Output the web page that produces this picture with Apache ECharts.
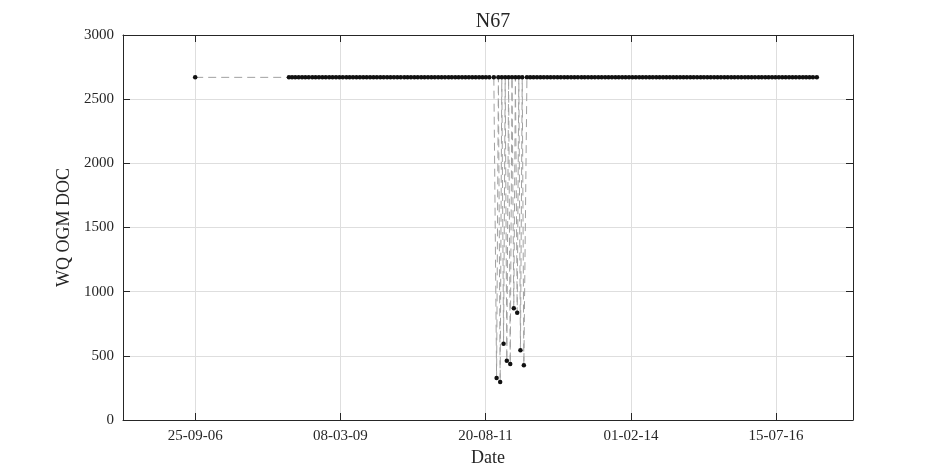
<!DOCTYPE html>
<html>
<head>
<meta charset="utf-8">
<script src="https://cdn.jsdelivr.net/npm/echarts@6/dist/echarts.min.js"></script>
<style>
  html, body { margin: 0; padding: 0; background: #fff; }
  #chart { width: 945px; height: 472px; }
</style>
</head>
<body>
<div id="chart"></div>
<script>
// site N67, DOC readings
var plateauValue = 2670;
var plateauDates = [
    '2006-09-25',
    '2008-04-25', '2008-05-14', '2008-06-03', '2008-06-24', '2008-07-15', '2008-08-04', '2008-08-25',
    '2008-09-16', '2008-10-06', '2008-10-27', '2008-11-17', '2008-12-08', '2008-12-29',
    '2009-01-19', '2009-02-09', '2009-03-02', '2009-03-23', '2009-04-14', '2009-05-04', '2009-05-25',
    '2009-06-15', '2009-07-06', '2009-07-27', '2009-08-17', '2009-09-07', '2009-09-28', '2009-10-19',
    '2009-11-09', '2009-11-30', '2009-12-21',
    '2010-01-11', '2010-02-01', '2010-02-22', '2010-03-15', '2010-04-06', '2010-04-26', '2010-05-17',
    '2010-06-07', '2010-06-28', '2010-07-19', '2010-08-09', '2010-08-30', '2010-09-20', '2010-10-11',
    '2010-11-01', '2010-11-22', '2010-12-13',
    '2011-01-04', '2011-01-24', '2011-02-14', '2011-03-07', '2011-03-28', '2011-04-18', '2011-05-09',
    '2011-05-30', '2011-06-20', '2011-07-11', '2011-08-01', '2011-08-22', '2011-09-12', '2011-10-10',
    '2011-11-07', '2011-11-28', '2011-12-19',
    '2012-01-09', '2012-01-30', '2012-02-20', '2012-03-12', '2012-04-02', '2012-05-01', '2012-05-21',
    '2012-06-11', '2012-07-02', '2012-07-23', '2012-08-13', '2012-09-03', '2012-09-24', '2012-10-15',
    '2012-11-05', '2012-11-26', '2012-12-17',
    '2013-01-07', '2013-01-28', '2013-02-18', '2013-03-11', '2013-04-02', '2013-04-22', '2013-05-13',
    '2013-06-03', '2013-06-24', '2013-07-15', '2013-08-05', '2013-08-26', '2013-09-16', '2013-10-07',
    '2013-10-28', '2013-11-18', '2013-12-09', '2013-12-30',
    '2014-01-20', '2014-02-10', '2014-03-03', '2014-03-24', '2014-04-14', '2014-05-05', '2014-05-26',
    '2014-06-16', '2014-07-07', '2014-07-28', '2014-08-18', '2014-09-08', '2014-09-29', '2014-10-20',
    '2014-11-10', '2014-12-01', '2014-12-22',
    '2015-01-12', '2015-02-02', '2015-02-23', '2015-03-16', '2015-04-07', '2015-04-27', '2015-05-18',
    '2015-06-08', '2015-06-29', '2015-07-20', '2015-08-10', '2015-08-31', '2015-09-21', '2015-10-12',
    '2015-11-02', '2015-11-23', '2015-12-14',
    '2016-01-05', '2016-01-25', '2016-02-15', '2016-03-07', '2016-03-29', '2016-04-18', '2016-05-09',
    '2016-05-30', '2016-06-20', '2016-07-11', '2016-08-01', '2016-08-22', '2016-09-12', '2016-10-03',
    '2016-10-24', '2016-11-14', '2016-12-05', '2016-12-27',
    '2017-01-16', '2017-02-06', '2017-02-27', '2017-03-23'
];
var dipDates = ['2011-10-27', '2011-11-18', '2011-12-09', '2011-12-29', '2012-01-19',
    '2012-02-10', '2012-03-02', '2012-03-22', '2012-04-12'];
var dipValues = [327, 296, 595, 462, 436, 870, 836, 543, 426];

var tickDates = ['2006-09-25', '2009-03-08', '2011-08-20', '2014-02-01', '2016-07-15'];
var xRange = ['2005-07-07', '2017-11-01'];
var yTicks = [0, 500, 1000, 1500, 2000, 2500, 3000];

function toTime(s) {
    let p = s.split('-');
    return Date.UTC(+p[0], +p[1] - 1, +p[2]);
}

function fmtDate(v) {
    let d = new Date(v);
    let dd = ('0' + d.getUTCDate()).slice(-2);
    let mm = ('0' + (d.getUTCMonth() + 1)).slice(-2);
    let yy = ('0' + (d.getUTCFullYear() % 100)).slice(-2);
    return dd + '-' + mm + '-' + yy;
}

var points = [];
for (let i = 0; i < plateauDates.length; i++) {
    points.push([toTime(plateauDates[i]), plateauValue]);
}
for (let i = 0; i < dipDates.length; i++) {
    points.push([toTime(dipDates[i]), dipValues[i]]);
}
points.sort(function (a, b) { return a[0] - b[0]; });

var ticks = tickDates.map(toTime);
var font = 'Liberation Serif';
var ink = '#262626';

var chart = echarts.init(document.getElementById('chart'));

var xBase = {
    type: 'value',
    min: toTime(xRange[0]),
    max: toTime(xRange[1]),
    axisLine: { show: true, onZero: false, lineStyle: { color: ink, width: 1 } },
    axisTick: { show: true, inside: true, length: 7, customValues: ticks, lineStyle: { color: ink } }
};

chart.setOption({
    animation: false,
    title: {
        text: 'N67',
        left: 488,
        top: 7,
        textAlign: 'center',
        textStyle: { fontFamily: font, fontSize: 20, fontWeight: 'normal', color: ink }
    },
    grid: { left: 123, right: 92, top: 35, bottom: 52, containLabel: false },
    xAxis: [
        Object.assign({}, xBase, {
            position: 'bottom',
            name: 'Date',
            nameLocation: 'middle',
            nameGap: 29,
            nameTextStyle: { fontFamily: font, fontSize: 18, color: ink },
            axisLabel: {
                customValues: ticks,
                formatter: fmtDate,
                margin: 9,
                fontFamily: font, fontSize: 15, color: ink
            },
            splitLine: { show: true, lineStyle: { color: '#dedede', width: 1 } }
        }),
        Object.assign({}, xBase, {
            position: 'top',
            axisLabel: { show: false },
            splitLine: { show: false }
        })
    ],
    yAxis: [
        {
            type: 'value',
            min: yTicks[0],
            max: yTicks[yTicks.length - 1],
            interval: 500,
            position: 'left',
            name: 'WQ OGM DOC',
            nameLocation: 'middle',
            nameGap: 36,
            nameTextStyle: { fontFamily: font, fontSize: 18, color: ink },
            axisLine: { show: true, lineStyle: { color: ink, width: 1 } },
            axisTick: { show: true, inside: true, length: 7, lineStyle: { color: ink } },
            axisLabel: {
                margin: 9, fontFamily: font, fontSize: 15, color: ink,
                formatter: function (v) { return String(v); }
            },
            splitLine: { show: true, lineStyle: { color: '#dedede', width: 1 } }
        },
        {
            type: 'value',
            min: yTicks[0],
            max: yTicks[yTicks.length - 1],
            interval: 500,
            position: 'right',
            axisLine: { show: true, lineStyle: { color: ink, width: 1 } },
            axisTick: { show: true, inside: true, length: 7, lineStyle: { color: ink } },
            axisLabel: { show: false },
            splitLine: { show: false }
        }
    ],
    series: [{
        type: 'line',
        data: points,
        xAxisIndex: 0,
        yAxisIndex: 0,
        symbol: 'circle',
        symbolSize: 4.5,
        showAllSymbol: true,
        itemStyle: { color: '#111' },
        lineStyle: { color: '#a0a0a0', width: 1, type: [8, 5] },
        emphasis: { disabled: true }
    }]
});
</script>
</body>
</html>
